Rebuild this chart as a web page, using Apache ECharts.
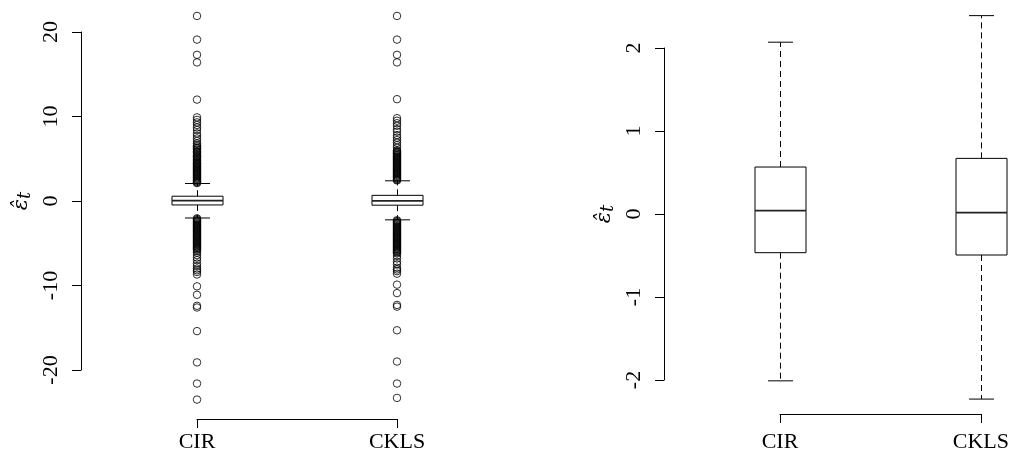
<!DOCTYPE html>
<html>
<head>
<meta charset="utf-8">
<script src="https://cdn.jsdelivr.net/npm/echarts@6/dist/echarts.min.js"></script>
<style>
  html, body { margin: 0; padding: 0; background: #fff; }
  #chart { width: 1012px; height: 459px; }
</style>
</head>
<body>
<div id="chart"></div>
<script>
// Residuals of the two short-rate models
const categories = ['CIR', 'CKLS'];

// lower whisker, Q1, median, Q3, upper whisker
const cirStats  = [-2.01, -0.466, 0.04, 0.566, 2.07];
const cklsStats = [-2.23, -0.494, 0.016, 0.67, 2.39];

// points beyond the whiskers
const cirOutliers = [
  21.9, 19.1, 17.3, 16.4, 12.0,
  9.9, 9.6, 9.3, 9.0, 8.7, 8.4, 8.0, 7.7, 7.4, 7.1, 6.8, 6.6,
  6.45, 6.3, 6.2, 6.05, 5.9, 5.8, 5.7, 5.55, 5.4, 5.3, 5.2, 5.1, 4.95, 4.85,
  4.75, 4.6, 4.5, 4.4, 4.3, 4.2, 4.1, 4.0, 3.9, 3.8, 3.7, 3.6, 3.5, 3.4,
  3.3, 3.2, 3.1, 3.0, 2.9, 2.8, 2.7, 2.6, 2.5, 2.4, 2.3, 2.2, 2.12,
  -2.05, -2.15, -2.25, -2.35, -2.45, -2.55, -2.65, -2.75, -2.85, -2.95,
  -3.05, -3.15, -3.25, -3.35, -3.45, -3.55, -3.65, -3.75, -3.85, -3.95,
  -4.05, -4.15, -4.25, -4.35, -4.45, -4.55, -4.65, -4.75, -4.85, -4.95,
  -5.05, -5.15, -5.25, -5.35, -5.45, -5.55, -5.65, -5.75, -5.9,
  -6.1, -6.4, -6.7, -7.0, -7.4, -7.7, -8.0, -8.2, -8.4, -8.7,
  -10.1, -11.1, -12.4, -12.6, -15.4, -19.1, -21.6, -23.5
];
const cklsOutliers = [
  21.9, 19.1, 17.3, 16.4, 12.05,
  9.8, 9.5, 9.2, 8.9, 8.5, 8.2, 7.8, 7.5, 7.2, 6.9, 6.6, 6.3, 6.0,
  5.9, 5.8, 5.7, 5.6, 5.5, 5.4, 5.3, 5.2, 5.1, 5.0, 4.9, 4.8, 4.7, 4.6,
  4.5, 4.4, 4.3, 4.2, 4.1, 4.0, 3.9, 3.8, 3.7, 3.6, 3.5, 3.4, 3.3, 3.2,
  3.1, 3.0, 2.9, 2.8, 2.7, 2.6, 2.5, 2.44,
  -2.28, -2.38, -2.48, -2.58, -2.68, -2.78, -2.88, -2.98, -3.08, -3.18,
  -3.28, -3.38, -3.48, -3.58, -3.68, -3.78, -3.88, -3.98, -4.08, -4.18,
  -4.28, -4.38, -4.48, -4.58, -4.68, -4.78, -4.88, -4.98, -5.08, -5.18,
  -5.28, -5.38, -5.48, -5.58, -5.68, -5.78, -5.88, -5.98, -6.08, -6.2,
  -6.5, -6.8, -7.2, -7.5, -7.9, -8.1, -8.3, -8.6,
  -9.9, -10.9, -12.3, -12.5, -15.3, -19.0, -21.6, -23.3
];

// y-axis tick labels of the two panels
const leftTicks  = [-20, -10, 0, 10, 20];
const rightTicks = [-2, -1, 0, 1, 2];

const serif = 'Liberation Serif';
const black = '#000';

const boxData = [[0].concat(cirStats), [1].concat(cklsStats)];

function renderBox(params, api) {
  const x = api.value(0);
  const lo = api.coord([x, api.value(1)]);
  const q1 = api.coord([x, api.value(2)]);
  const md = api.coord([x, api.value(3)]);
  const q3 = api.coord([x, api.value(4)]);
  const hi = api.coord([x, api.value(5)]);
  const cx = Math.round(lo[0]) + 0.5;
  const hw = 25.5, cw = 12.5;
  const solid = { stroke: black, lineWidth: 1 };
  const dashed = { stroke: black, lineWidth: 1, lineDash: [6, 4] };
  return {
    type: 'group',
    children: [
      { type: 'line', shape: { x1: cx, y1: q3[1], x2: cx, y2: hi[1] }, style: dashed },
      { type: 'line', shape: { x1: cx, y1: q1[1], x2: cx, y2: lo[1] }, style: dashed },
      { type: 'line', shape: { x1: cx - cw, y1: hi[1], x2: cx + cw, y2: hi[1] }, style: solid },
      { type: 'line', shape: { x1: cx - cw, y1: lo[1], x2: cx + cw, y2: lo[1] }, style: solid },
      { type: 'rect', shape: { x: cx - hw, y: q3[1], width: 2 * hw, height: q1[1] - q3[1] },
        style: { fill: '#fff', stroke: black, lineWidth: 1 } },
      { type: 'line', shape: { x1: cx - hw, y1: md[1], x2: cx + hw, y2: md[1] },
        style: { stroke: '#222', lineWidth: 1.8 } }
    ]
  };
}

function yAxisFor(gridIndex, ticks) {
  return {
    type: 'value',
    gridIndex: gridIndex,
    min: ticks[0],
    max: ticks[ticks.length - 1],
    interval: ticks[1] - ticks[0],
    offset: 116,
    splitLine: { show: false },
    axisLine: { show: true, onZero: false, lineStyle: { color: black, width: 1 } },
    axisTick: { show: true, length: 9, lineStyle: { color: black, width: 1 } },
    axisLabel: { rotate: 90, margin: 19, color: black, fontFamily: serif, fontSize: 22 },
    name: '{e|ε̂}{t|t}',
    nameLocation: 'middle',
    nameRotate: 90,
    nameGap: 47,
    nameTextStyle: {
      rich: {
        e: { fontFamily: 'DejaVu Serif', fontStyle: 'italic', fontSize: 21, color: black },
        t: { fontFamily: 'DejaVu Serif', fontStyle: 'italic', fontSize: 18, color: black, padding: [6, 0, 0, 0] }
      }
    }
  };
}

function xAxisFor(gridIndex, offset, margin) {
  return {
    type: 'category',
    gridIndex: gridIndex,
    data: categories,
    boundaryGap: false,
    position: 'bottom',
    offset: offset,
    axisLine: { show: true, onZero: false, lineStyle: { color: black, width: 1 } },
    axisTick: { show: true, length: 9, lineStyle: { color: black, width: 1 } },
    axisLabel: { margin: margin, color: black, fontFamily: serif, fontSize: 22 },
    splitLine: { show: false }
  };
}

// open rings, unfilled so overlapping points stay visible
const outlierStyle = { color: 'rgba(0,0,0,0)', borderColor: '#000', borderWidth: 1 };

const chart = echarts.init(document.getElementById('chart'), null, { renderer: 'canvas' });
chart.setOption({
  animation: false,
  backgroundColor: '#fff',
  grid: [
    { left: 197, width: 200, top: 32, height: 338 },
    { left: 780, width: 201, top: 48, height: 332 }
  ],
  xAxis: [xAxisFor(0, 49, 12), xAxisFor(1, 34, 17)],
  yAxis: [yAxisFor(0, leftTicks), yAxisFor(1, rightTicks)],
  series: [
    {
      type: 'custom', xAxisIndex: 0, yAxisIndex: 0,
      renderItem: renderBox, data: boxData, encode: { x: 0, y: [1, 2, 3, 4, 5] }, z: 2
    },
    {
      type: 'scatter', xAxisIndex: 0, yAxisIndex: 0, clip: false, z: 3,
      symbol: 'circle', symbolSize: 7.5, itemStyle: outlierStyle,
      data: cirOutliers.map(v => [0, v])
    },
    {
      type: 'scatter', xAxisIndex: 0, yAxisIndex: 0, clip: false, z: 3,
      symbol: 'circle', symbolSize: 7.5, itemStyle: outlierStyle,
      data: cklsOutliers.map(v => [1, v])
    },
    {
      type: 'custom', xAxisIndex: 1, yAxisIndex: 1,
      renderItem: renderBox, data: boxData, encode: { x: 0, y: [1, 2, 3, 4, 5] }, z: 2
    }
  ]
});
</script>
</body>
</html>
